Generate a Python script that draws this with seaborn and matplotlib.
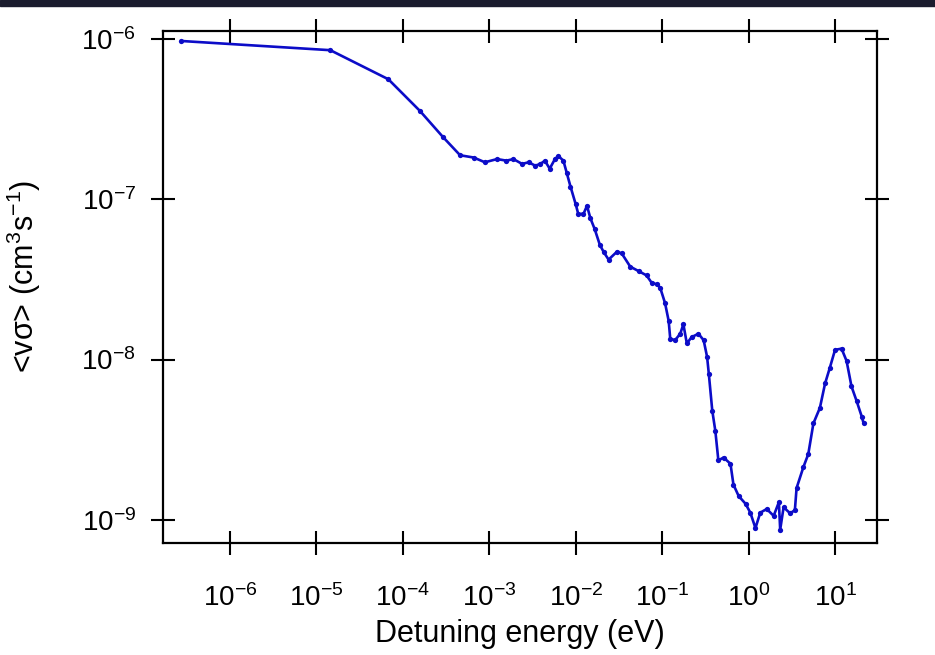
import numpy as np
import pandas as pd
import matplotlib
matplotlib.use('Agg')
import matplotlib.pyplot as plt
import matplotlib.ticker as mticker
from matplotlib.patches import Rectangle
import seaborn as sns

# detuning energy (eV)
energy = [2.75e-7, 1.45e-5, 6.8e-5, 1.58e-4, 2.9e-4, 4.6e-4, 6.6e-4, 8.9e-4,
          1.23e-3, 1.58e-3, 1.9e-3, 2.4e-3, 2.85e-3, 3.4e-3, 3.9e-3, 4.4e-3,
          5.0e-3, 5.75e-3, 6.3e-3, 7.2e-3, 7.9e-3, 8.7e-3, 1.0e-2, 1.07e-2,
          1.23e-2, 1.35e-2, 1.48e-2, 1.66e-2, 1.9e-2, 2.1e-2, 2.4e-2, 2.99e-2,
          3.4e-2, 4.27e-2, 5.4e-2, 6.6e-2, 7.6e-2, 8.7e-2, 9.5e-2, 0.108,
          0.119, 0.124, 0.141, 0.162, 0.176, 0.193, 0.219, 0.263, 0.302,
          0.331, 0.347, 0.38, 0.412, 0.447, 0.513, 0.617, 0.668, 0.767,
          0.923, 1.047, 1.20, 1.365, 1.62, 1.95, 2.24, 2.32, 2.54, 3.02,
          3.43, 3.59, 4.31, 4.9, 5.62, 6.68, 7.67, 8.71, 10.0, 11.9, 13.6,
          15.5, 17.8, 20.4, 21.4]

# rate coefficient <v sigma> (cm^3 s^-1)
rate = [9.7e-7, 8.5e-7, 5.6e-7, 3.55e-7, 2.45e-7, 1.88e-7, 1.82e-7, 1.70e-7,
        1.78e-7, 1.74e-7, 1.78e-7, 1.66e-7, 1.70e-7, 1.62e-7, 1.66e-7, 1.74e-7,
        1.55e-7, 1.78e-7, 1.86e-7, 1.74e-7, 1.45e-7, 1.2e-7, 9.3e-8, 8.1e-8,
        8.1e-8, 9.1e-8, 7.6e-8, 6.5e-8, 5.2e-8, 4.7e-8, 4.2e-8, 4.7e-8,
        4.6e-8, 3.8e-8, 3.55e-8, 3.35e-8, 3.0e-8, 2.95e-8, 2.8e-8, 2.25e-8,
        1.74e-8, 1.35e-8, 1.32e-8, 1.45e-8, 1.66e-8, 1.26e-8, 1.38e-8, 1.45e-8, 1.32e-8,
        1.04e-8, 8.1e-9, 4.8e-9, 3.6e-9, 2.35e-9, 2.45e-9, 2.24e-9, 1.66e-9, 1.41e-9,
        1.26e-9, 1.11e-9, 8.9e-10, 1.11e-9, 1.17e-9, 1.06e-9, 1.29e-9, 8.7e-10, 1.2e-9, 1.1e-9,
        1.15e-9, 1.58e-9, 2.14e-9, 2.57e-9, 4.0e-9, 5.0e-9, 7.1e-9, 8.9e-9, 1.15e-8, 1.17e-8, 9.8e-9,
        6.8e-9, 5.5e-9, 4.4e-9, 4.0e-9]

df = pd.DataFrame({'energy': energy, 'rate': rate})

sns.set_style('ticks')
plt.rcParams['font.family'] = ['Liberation Sans', 'DejaVu Sans']
plt.rcParams['mathtext.fontset'] = 'custom'
plt.rcParams['mathtext.rm'] = 'Liberation Sans'
plt.rcParams['mathtext.it'] = 'Liberation Sans'
plt.rcParams['axes.unicode_minus'] = False
plt.rcParams['text.color'] = 'black'
plt.rcParams['axes.labelcolor'] = 'black'
plt.rcParams['xtick.color'] = 'black'
plt.rcParams['ytick.color'] = 'black'

fig = plt.figure(figsize=(9.35, 6.55), dpi=100)
ax = fig.add_axes([0.1743, 0.171, 0.7637, 0.7817])

sns.lineplot(data=df, x='energy', y='rate', ax=ax, sort=False, estimator=None,
             color='#0c0cc8', linewidth=1.9, marker='o', markersize=3.8,
             markeredgewidth=0)

ax.set_xscale('log')
ax.set_yscale('log')
ax.set_xlim(1.68e-7, 30.6)
ax.set_ylim(7.18e-10, 1.12e-6)

ax.xaxis.set_major_locator(mticker.LogLocator(base=10, numticks=20))
ax.yaxis.set_major_locator(mticker.LogLocator(base=10, numticks=20))
ax.xaxis.set_minor_locator(mticker.NullLocator())
ax.yaxis.set_minor_locator(mticker.NullLocator())
ax.xaxis.offsetText.set_visible(False)
ax.yaxis.offsetText.set_visible(False)

for sp in ax.spines.values():
    sp.set_visible(True)
    sp.set_linewidth(1.6)
    sp.set_color('black')

ax.tick_params(axis='both', which='major', direction='inout', length=17,
               width=1.5, color='black', labelcolor='black', labelsize=20,
               top=True, right=True, labeltop=False, labelright=False)
ax.tick_params(axis='x', pad=21)
ax.tick_params(axis='y', pad=11)

ax.set_xlabel('Detuning energy (eV)', fontsize=22, labelpad=5)
ax.set_ylabel('<vσ> (cm$^{3}$s$^{-1}$)', fontsize=22)
ax.yaxis.set_label_coords(-0.168, 0.52)

# dark strip along the top edge of the slide
fig.patches.append(Rectangle((0, 1 - 6 / 655), 1, 6 / 655, transform=fig.transFigure,
                             color='#1b1c2e', zorder=-1))

fig.savefig('out.png', dpi=100)
